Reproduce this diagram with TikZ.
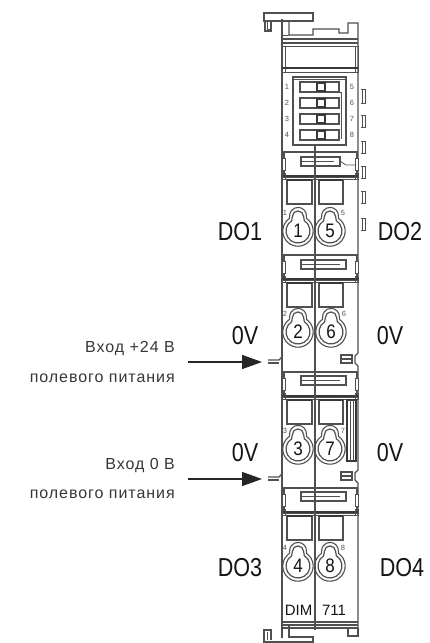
\documentclass[tikz,border=0pt]{standalone}
\usepackage{fontspec}
\setmainfont{Liberation Sans}
\usetikzlibrary{arrows.meta}
\definecolor{ln}{HTML}{505050}
\definecolor{txt}{HTML}{141414}
\newfontfamily\notefont[LetterSpace=6]{Liberation Sans}
\tikzset{
  body/.style={draw=ln,line width=1.1pt},
  thin line/.style={draw=ln,line width=0.8pt},
  heavy/.style={draw=ln!70!black,line width=1.8pt},
  bigl/.style={text=txt,inner sep=0pt,yscale=1.18,xscale=0.98,transform shape,font=\fontsize{22}{24}\selectfont},
  note/.style={text=txt!85,inner sep=0pt,anchor=east,font=\notefont\fontsize{16}{18}\selectfont},
  sm/.style={text=ln,inner sep=0pt,font=\fontsize{7.5}{8}\selectfont},
  pin/.style={text=txt,inner sep=0pt,yscale=1.15,transform shape,font=\fontsize{17}{18}\selectfont},
  lead/.style={draw=black!85,line width=1.5pt,-{Triangle[length=20pt,width=14pt]}},
}
\newcommand{\keyterm}[4]{% x y number tag
  \begin{scope}[shift={(#1,#2)},yscale=-1]
    \draw[body] (125:15.2) arc (125:415:15.2) -- (8.4,14.5) arc (-5:185:8.4) -- cycle;
    \draw[thin line,line width=1.2pt] (122:12) arc (122:418:12) -- (5.6,14.5) arc (0:180:5.6) -- cycle;
  \end{scope}
  \node[pin] (pin#3) at (#1,#2) {#3};
  \node[sm] (tag#3) at ({#1+#4},{#2-18.5}) {#3};
}
\newcommand{\sepblock}[3]{% top y, slot top y, slot right x
  \draw[body] (284,#1) rectangle (357,#1+25);
  \draw[heavy] (282,#1+24) -- (358,#1+24);
  \draw[thin line] (282,#1+27) -- (358,#1+27);
  \draw[thin line,fill=white] (282,#1+6) rectangle (285,#1+18);
  \draw[thin line,fill=white] (355,#1+6) rectangle (358,#1+18);
  \draw[thin line] (282,#1+21) rectangle (285,#1+27);
  \draw[thin line] (355,#1+21) rectangle (358,#1+27);
  \draw[body,fill=white] (301,#2) rectangle (#3,#2+9);
  \draw[thin line] (301,#2+4) -- (#3-6,#2+4);
}
\newcommand{\tooth}[2]{\draw[thin line] (362,#1) -- (362,#2) (365,#1) -- (365,#2) (361,#1) -- (366,#1) (361,#2) -- (366,#2);}
\newcommand{\dipsw}[1]{%
  \draw[body,fill=white] (300,#1) rectangle (339,#1+10);
  \draw[heavy,line width=2.2pt] (317,#1+1) rectangle (325,#1+9);
}
\begin{document}
\begin{tikzpicture}[x=1pt,y=-1pt]
\useasboundingbox (0,0) rectangle (430,643);
% top hook
\draw[body,line width=1.4pt] (264,13) -- (313,13) -- (313,21) -- (264,21) -- cycle;
\draw[body] (265,21) rectangle (271,31);
\draw[thin line] (267,21) -- (267,29) -- (271,29);
% outer body
\draw[body] (282,19) -- (282,628);
\draw[body] (289,21) -- (289,35) -- (313,35) -- (313,29) -- (339,29) -- (339,33) -- (348,33) -- (348,23) -- (358,23) -- (358,353) -- (355,356) -- (355,363) -- (358,366) -- (358,470) -- (355,473) -- (355,480) -- (358,483) -- (358,628);
\draw[thin line] (282,35) -- (289,35);
\draw[body] (282,39) -- (358,39) (282,43) -- (358,43);
% top block
\draw[thin line] (285,46) -- (355,46);
\draw[thin line] (282,46) rectangle (285,72);
\draw[thin line] (355,46) rectangle (358,72);
\draw[heavy] (282,68) -- (358,68);
\draw[thin line] (282,72) -- (358,72);
% DIP
\draw[body] (293,77) rectangle (346,145);
\draw[thin line] (293,79) -- (346,79);
\draw[thin line] (339,92) -- (341,92) -- (341,139);
\dipsw{82}\dipsw{98}\dipsw{114}\dipsw{130}
\foreach \t/\y in {1/87,2/103,3/119,4/135}{\node[sm] (dl\t) at (287,\y) {\t};}
\foreach \t/\y in {5/87,6/103,7/119,8/135}{\node[sm] (dr\t) at (352,\y) {\t};}
% teeth
\tooth{89}{103}\tooth{115}{127}\tooth{141}{153}\tooth{166}{178}\tooth{191}{203}\tooth{218}{230}
% blocks
\sepblock{152}{157}{340}
\draw[thin line] (340,161) -- (346,165) -- (356,165);
\sepblock{255}{260}{346}
\sepblock{372}{376}{346}
\sepblock{488}{492}{346}
% centre divider
\draw[body] (315,145) -- (315,630);
% windows
\foreach \y in {180,283,400,516}{
  \draw[body] (287,\y) rectangle (312,\y+24);
  \draw[body] (319,\y) rectangle (343,\y+24);
  \draw[heavy,line width=1.4pt] (287,\y) -- (312,\y) (319,\y) -- (343,\y);
}
% terminals
\keyterm{298}{231}{1}{-13}\keyterm{330}{231}{5}{13}
\keyterm{298}{332}{2}{-13}\keyterm{331}{332}{6}{13}
\keyterm{298}{449}{3}{-13}\keyterm{330}{449}{7}{13}
\keyterm{298}{566}{4}{-13}\keyterm{330}{566}{8}{13}
% right column element
\draw[heavy,fill=white] (347,400) rectangle (356,461);
\draw[thin line] (350,400) -- (350,461) (353,400) -- (353,461);
% right notches
\draw[body] (341,355) -- (352,355) -- (352,363) -- (341,363) -- cycle (341,359) -- (352,359);
\draw[body] (341,472) -- (352,472) -- (352,480) -- (341,480) -- cycle (341,476) -- (352,476);
% left tabs
\draw[body] (268,360) -- (279,360) -- (281,358) -- (282,355);
\draw[body] (268,363) -- (279,363);
\draw[body] (268,477) -- (279,477) -- (281,475) -- (282,472);
\draw[body] (268,480) -- (279,480);
% bottom
\draw[body] (282,622) -- (358,622) (282,625) -- (358,625) (282,628) -- (358,628);
\node[text=txt,inner sep=0pt,font=\fontsize{15}{16}\selectfont] (dim) at (298.5,610) {DIM};
\node[text=txt,inner sep=0pt,font=\fontsize{15}{16}\selectfont] (num) at (334,610) {711};
\draw[body] (282,628) -- (282,638);
\draw[body] (289,625) -- (289,637) -- (313,637) -- (313,642) -- (264,642) -- (264,630) -- (271,630) -- (271,640);
\draw[thin line] (267,632) -- (267,640);
\draw[body] (348,628) -- (348,636) -- (358,636) -- (358,628);
% labels
\node[bigl] (do1) at (240,232) {DO1};
\node[bigl] (do2) at (400,232) {DO2};
\node[bigl] (zl1) at (245,336) {0V};
\node[bigl] (zr1) at (390,336) {0V};
\node[bigl] (zl2) at (245,453) {0V};
\node[bigl] (zr2) at (390,453) {0V};
\node[bigl] (do3) at (240,568) {DO3};
\node[bigl] (do4) at (402,568) {DO4};
\node[note] (n1) at (175,349) {Вход +24 В};
\node[note] (n2) at (175,378) {полевого питания};
\node[note] (n3) at (175,466) {Вход 0 В};
\node[note] (n4) at (175,494) {полевого питания};
% arrows
\coordinate (a1s) at (188,362); \coordinate (a1e) at (262,362);
\coordinate (a2s) at (188,479); \coordinate (a2e) at (262,479);
\draw[lead] (a1s) -- (a1e);
\draw[lead] (a2s) -- (a2e);
\end{tikzpicture}
\end{document}
